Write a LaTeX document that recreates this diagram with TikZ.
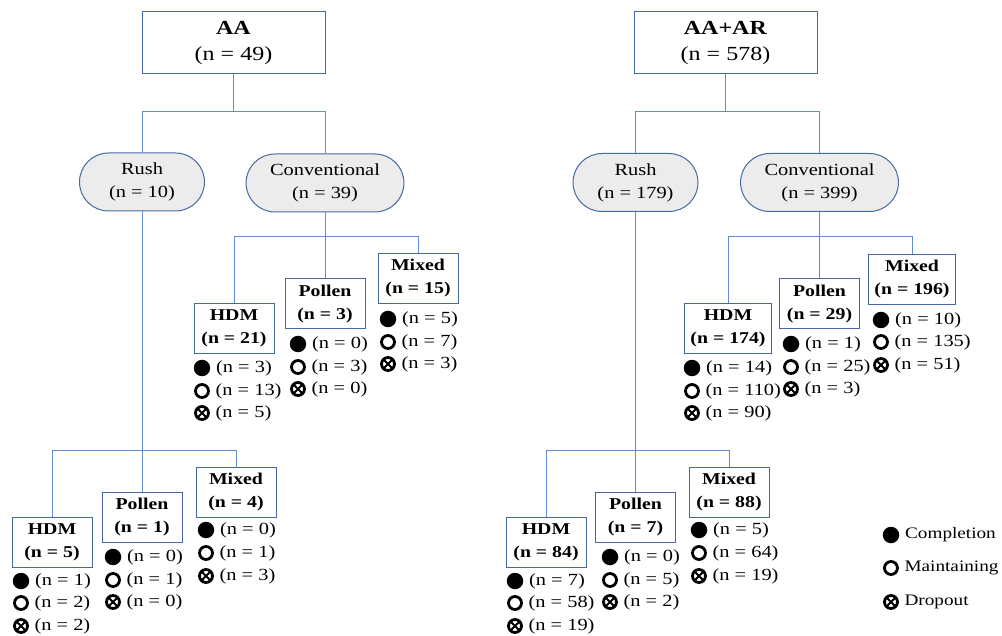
\documentclass[tikz,border=0pt]{standalone}
\usepackage{fontspec}
\setmainfont{Liberation Serif}[FakeStretch=1.2]
\definecolor{boxblue}{RGB}{70,105,160}
\definecolor{lineblue}{RGB}{100,140,200}
\definecolor{armgray}{RGB}{236,236,236}
\tikzset{
  grp/.style={draw=boxblue,line width=1pt,fill=white,minimum width=183pt,minimum height=62pt,align=center,inner sep=2pt,font=\fontsize{20}{26}\selectfont},
  arm/.style={draw=boxblue,line width=1pt,fill=armgray,rounded corners=29pt,minimum width=125pt,minimum height=58pt,inner xsep=24pt,align=center,font=\fontsize{17}{23}\selectfont},
  sub/.style={draw=boxblue,line width=1pt,fill=white,minimum width=80pt,minimum height=50pt,inner xsep=6pt,align=center,font=\bfseries\fontsize{16.5}{23}\selectfont},
  link/.style={draw=lineblue,line width=1pt},
  done/.style={circle,fill=black,minimum size=16.5pt,inner sep=0pt},
  keep/.style={circle,draw=black,line width=2.8pt,minimum size=13pt,inner sep=0pt},
  drop/.style={keep,path picture={
      \draw[line width=2pt] (path picture bounding box.north west)--(path picture bounding box.south east);
      \draw[line width=2pt] (path picture bounding box.north east)--(path picture bounding box.south west);}},
  every label/.style={font=\fontsize{17}{20}\selectfont,inner sep=3pt},
  label distance=2.5pt
}
\begin{document}
\begin{tikzpicture}[x=1pt,y=-1pt]
\useasboundingbox (0,0) rectangle (1002,636);

% AA tree
\node (T1) at (233.5,43) [grp]{\textbf{AA}\\(n = 49)};
\node (R1) at (142,182) [arm]{Rush\\(n = 10)};
\node (C1) at (325,183) [arm]{Conventional\\(n = 39)};
\coordinate (J1) at (233.5,112);
\coordinate (J2) at (325,237);
\coordinate (J3) at (142,450);

\node (H1) at (234,328.5) [sub]{HDM\\(n = 21)};
\node (P1) at (325,304) [sub]{Pollen\\(n = 3)};
\node (M1) at (418,278.5) [sub]{Mixed\\(n = 15)};
\node (H2) at (52,542) [sub]{HDM\\(n = 5)};
\node (P2) at (142,517) [sub]{Pollen\\(n = 1)};
\node (M2) at (236,492) [sub]{Mixed\\(n = 4)};

\draw[link] (T1)--(J1);
\draw[link] (J1)-|(R1);
\draw[link] (J1)-|(C1);
\draw[link] (C1)--(J2);
\draw[link] (J2)-|(H1);
\draw[link] (J2)--(P1);
\draw[link] (J2)-|(M1);
\draw[link] (R1)--(J3);
\draw[link] (J3)-|(H2);
\draw[link] (J3)--(P2);
\draw[link] (J3)-|(M2);

\node (H1a) at (202,368) [done,label={right:(n = 3)}]{};
\node (H1b) at (202,391) [keep,label={right:(n = 13)}]{};
\node (H1c) at (202,413) [drop,label={right:(n = 5)}]{};
\node (P1a) at (298,344) [done,label={right:(n = 0)}]{};
\node (P1b) at (298,367) [keep,label={right:(n = 3)}]{};
\node (P1c) at (298,389) [drop,label={right:(n = 0)}]{};
\node (M1a) at (388,319) [done,label={right:(n = 5)}]{};
\node (M1b) at (388,342) [keep,label={right:(n = 7)}]{};
\node (M1c) at (388,364) [drop,label={right:(n = 3)}]{};

\node (H2a) at (21,581) [done,label={right:(n = 1)}]{};
\node (H2b) at (21,603) [keep,label={right:(n = 2)}]{};
\node (H2c) at (21,626) [drop,label={right:(n = 2)}]{};
\node (P2a) at (113,557) [done,label={right:(n = 0)}]{};
\node (P2b) at (113,580) [keep,label={right:(n = 1)}]{};
\node (P2c) at (113,602) [drop,label={right:(n = 0)}]{};
\node (M2a) at (206,530) [done,label={right:(n = 0)}]{};
\node (M2b) at (206,553) [keep,label={right:(n = 1)}]{};
\node (M2c) at (206,576) [drop,label={right:(n = 3)}]{};

% AA+AR tree
\node (T2) at (725.5,43) [grp]{\textbf{AA+AR}\\(n = 578)};
\node (R3) at (635.5,182.5) [arm]{Rush\\(n = 179)};
\node (C3) at (819.5,182.5) [arm]{Conventional\\(n = 399)};
\coordinate (J4) at (725.5,112);
\coordinate (J5) at (819.5,237);
\coordinate (J6) at (635.5,450);

\node (H3) at (728,328.5) [sub]{HDM\\(n = 174)};
\node (P3) at (819.5,304) [sub]{Pollen\\(n = 29)};
\node (M3) at (912,279.5) [sub]{Mixed\\(n = 196)};
\node (H4) at (546,542) [sub]{HDM\\(n = 84)};
\node (P4) at (635.5,517) [sub]{Pollen\\(n = 7)};
\node (M4) at (729,492) [sub]{Mixed\\(n = 88)};

\draw[link] (T2)--(J4);
\draw[link] (J4)-|(R3);
\draw[link] (J4)-|(C3);
\draw[link] (C3)--(J5);
\draw[link] (J5)-|(H3);
\draw[link] (J5)--(P3);
\draw[link] (J5)-|(M3);
\draw[link] (R3)--(J6);
\draw[link] (J6)-|(H4);
\draw[link] (J6)--(P4);
\draw[link] (J6)-|(M4);

\node (H3a) at (692,368) [done,label={right:(n = 14)}]{};
\node (H3b) at (692,391) [keep,label={right:(n = 110)}]{};
\node (H3c) at (692,413) [drop,label={right:(n = 90)}]{};
\node (P3a) at (791,344) [done,label={right:(n = 1)}]{};
\node (P3b) at (791,367) [keep,label={right:(n = 25)}]{};
\node (P3c) at (791,389) [drop,label={right:(n = 3)}]{};
\node (M3a) at (881,320) [done,label={right:(n = 10)}]{};
\node (M3b) at (881,342) [keep,label={right:(n = 135)}]{};
\node (M3c) at (881,365) [drop,label={right:(n = 51)}]{};

\node (H4a) at (515,581) [done,label={right:(n = 7)}]{};
\node (H4b) at (515,603) [keep,label={right:(n = 58)}]{};
\node (H4c) at (515,626) [drop,label={right:(n = 19)}]{};
\node (P4a) at (610,557) [done,label={right:(n = 0)}]{};
\node (P4b) at (610,580) [keep,label={right:(n = 5)}]{};
\node (P4c) at (610,602) [drop,label={right:(n = 2)}]{};
\node (M4a) at (699,530) [done,label={right:(n = 5)}]{};
\node (M4b) at (699,553) [keep,label={right:(n = 64)}]{};
\node (M4c) at (699,576) [drop,label={right:(n = 19)}]{};

% legend
\node (La) at (891,535) [done,label={[font=\fontsize{16}{20}\selectfont]right:Completion}]{};
\node (Lb) at (891,568) [keep,label={[font=\fontsize{16}{20}\selectfont]right:Maintaining}]{};
\node (Lc) at (891,602) [drop,label={[font=\fontsize{16}{20}\selectfont]right:Dropout}]{};

\end{tikzpicture}
\end{document}
